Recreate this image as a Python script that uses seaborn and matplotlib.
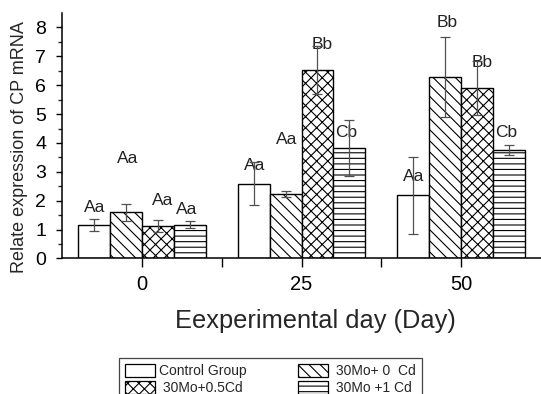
import matplotlib
matplotlib.use("Agg")
import matplotlib.pyplot as plt
import seaborn as sns
import pandas as pd
import numpy as np
from matplotlib.patches import Patch

# ---- data ----
days = ["0", "25", "50"]
groups = ["Control Group", " 30Mo+ 0  Cd", " 30Mo+0.5Cd", " 30Mo +1 Cd"]
control = [1.15, 2.59, 2.19]
mo_0cd = [1.60, 2.23, 6.29]
mo_05cd = [1.12, 6.53, 5.91]
mo_1cd = [1.17, 3.82, 3.76]
err_control = [0.20, 0.75, 1.33]
err_0cd = [0.30, 0.11, 1.39]
err_05cd = [0.22, 0.84, 0.93]
err_1cd = [0.12, 0.97, 0.16]
sig_control = ["Aa", "Aa", "Aa"]
sig_0cd = ["Aa", "Aa", "Bb"]
sig_05cd = ["Aa", "Bb", "Bb"]
sig_1cd = ["Aa", "Cb", "Cb"]
# heights (data units) at which the significance letters are written
sig_y_control = [1.78, 3.22, 2.84]
sig_y_0cd = [3.45, 4.11, 8.17]
sig_y_05cd = [1.99, 7.40, 6.77]
sig_y_1cd = [1.71, 4.37, 4.35]
x_label = "Eexperimental day (Day)"
y_label = "Relate expression of CP mRNA"

values = [control, mo_0cd, mo_05cd, mo_1cd]
errors = [err_control, err_0cd, err_05cd, err_1cd]
sigs = [sig_control, sig_0cd, sig_05cd, sig_1cd]
sig_ys = [sig_y_control, sig_y_0cd, sig_y_05cd, sig_y_1cd]

rows = []
for g, vals in zip(groups, values):
    for d, v in zip(days, vals):
        rows.append({"day": d, "group": g, "value": v})
df = pd.DataFrame(rows)

# ---- style ----
sns.set_style("ticks")
plt.rcParams["font.family"] = ["Liberation Sans", "DejaVu Sans"]
plt.rcParams["hatch.linewidth"] = 0.8
plt.rcParams["hatch.color"] = "black"

hatches = ["", "\\\\\\", "xxx", "---"]
label_dx = [0.005, 0.01, 0.03, -0.02]

fig = plt.figure(figsize=(5.41, 3.94), dpi=100)
ax = fig.add_axes([62 / 541, 0.344, 1 - 62 / 541, 0.623])

sns.barplot(data=df, x="day", y="value", hue="group", order=days,
            hue_order=groups, errorbar=None, width=0.8, dodge=True,
            palette=["white"] * 4, edgecolor="black",
            linewidth=1.0, legend=False, ax=ax, zorder=2)

bar_containers = list(ax.containers)
for i, cont in enumerate(bar_containers):
    xs, hs = [], []
    for bar in cont:
        bar.set_hatch(hatches[i])
        bar.set_facecolor("white")
        bar.set_edgecolor("black")
        xs.append(bar.get_x() + bar.get_width() / 2)
        hs.append(bar.get_height())
    ax.errorbar(xs, hs, yerr=errors[i], fmt="none", ecolor="#505050",
                elinewidth=0.9, capsize=3.5, capthick=0.9, zorder=4)
    for x, lab, yy in zip(xs, sigs[i], sig_ys[i]):
        ax.text(x + label_dx[i], yy, lab, ha="center", va="center",
                fontsize=12.5, color="#222222", zorder=3)

ax.set_xlim(-0.5, 2.5)
ax.set_ylim(0, 8.5)
ax.set_yticks(range(0, 9))
ax.set_yticks(np.arange(0.5, 8.5, 1.0), minor=True)
ax.set_xticks([0, 1, 2])
ax.set_xticklabels(days)
ax.set_xticks([0.5, 1.5], minor=True)

for s in ["top", "right"]:
    ax.spines[s].set_visible(False)
for s in ["left", "bottom"]:
    ax.spines[s].set_linewidth(1.1)
    ax.spines[s].set_color("black")

ax.tick_params(axis="x", which="both", direction="out", length=6.5,
               width=1.0, labelsize=14.5, pad=5.5, colors="black")
ax.tick_params(axis="y", which="major", direction="out", length=4.5,
               width=1.0, labelsize=14, pad=7, colors="black")
ax.tick_params(axis="y", which="minor", direction="out", length=3,
               width=1.0)

ax.set_xlabel(x_label, fontsize=18.3)
ax.xaxis.set_label_coords(0.529, -0.254)
ax.xaxis.label.set_va("center")
ax.set_ylabel(y_label, fontsize=13)
ax.yaxis.set_label_coords(-0.089, 0.453)
ax.yaxis.label.set_va("center")

handles = [Patch(facecolor="white", edgecolor="black", hatch=h, linewidth=0.9)
           for h in hatches]
order = [0, 2, 1, 3]
leg = fig.legend([handles[k] for k in order], [groups[k] for k in order],
                 ncol=2, loc="upper left",
                 bbox_to_anchor=(119 / 541, 1 - 357.5 / 394),
                 borderaxespad=0, fontsize=10, frameon=True, fancybox=False,
                 edgecolor="#444444", framealpha=1, handlelength=2.15,
                 handleheight=1.05, handletextpad=0.3, labelspacing=0.2,
                 columnspacing=3.7, borderpad=0.45)
leg.get_frame().set_linewidth(0.9)

fig.savefig("out.png", dpi=100)
